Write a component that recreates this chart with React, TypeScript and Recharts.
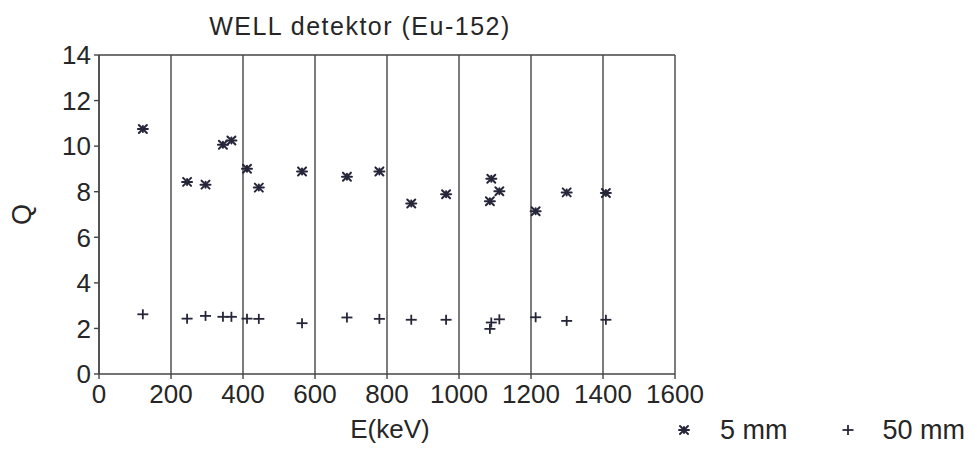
import React from 'react';
import { ScatterChart, Scatter, XAxis, YAxis, CartesianGrid, ReferenceLine, Label } from 'recharts';

// Eu-152 gamma lines (keV) and Q
const energies = [121.8, 244.7, 295.9, 344.3, 367.8, 411.1, 444.0, 564.0, 688.7, 778.9, 867.4, 964.1, 1085.8, 1089.7, 1112.1, 1212.9, 1299.1, 1408.0];
const q5mm = [10.75, 8.43, 8.31, 10.06, 10.25, 9.01, 8.18, 8.89, 8.66, 8.89, 7.48, 7.89, 7.58, 8.57, 8.02, 7.14, 7.97, 7.94];
const q50mm = [2.62, 2.43, 2.55, 2.51, 2.51, 2.43, 2.42, 2.23, 2.48, 2.42, 2.38, 2.38, 1.98, 2.26, 2.40, 2.49, 2.33, 2.38];

const xTicks = [0, 200, 400, 600, 800, 1000, 1200, 1400, 1600];
const yTicks = [0, 2, 4, 6, 8, 10, 12, 14];

const seriesNames = ['5 mm', '50 mm'];

const data5 = energies.map((e, i) => ({ e, q: q5mm[i] }));
const data50 = energies.map((e, i) => ({ e, q: q50mm[i] }));

const INK = '#26263a';
const AXIS = '#444';
const TEXT = '#262626';
const FONT = '"Liberation Sans", Arial, sans-serif';

const Asterisk = (props: any) => {
  const { cx, cy } = props;
  if (cx == null || cy == null) return null;
  return (
    <g stroke={INK} strokeWidth={2} strokeLinecap="round">
      <line x1={cx - 5} y1={cy} x2={cx + 5} y2={cy} />
      <line x1={cx - 4} y1={cy - 4} x2={cx + 4} y2={cy + 4} />
      <line x1={cx - 4} y1={cy + 4} x2={cx + 4} y2={cy - 4} />
      <line x1={cx} y1={cy - 3} x2={cx} y2={cy + 3} />
    </g>
  );
};

const Plus = (props: any) => {
  const { cx, cy } = props;
  if (cx == null || cy == null) return null;
  return (
    <g stroke={INK} strokeWidth={1.8}>
      <line x1={cx - 5.5} y1={cy} x2={cx + 5.5} y2={cy} />
      <line x1={cx} y1={cy - 5} x2={cx} y2={cy + 5} />
    </g>
  );
};

const tickStyle = { fill: TEXT, fontSize: 26, fontFamily: FONT };

const App = () => {
  return (
    <div style={{ position: 'absolute', left: 0, top: 0, width: 977, height: 450, background: '#fff', fontFamily: FONT }}>
      <ScatterChart width={977} height={450} margin={{ top: 55, right: 302, bottom: 0, left: 0 }}>
        <CartesianGrid vertical horizontal={false} stroke={AXIS} strokeWidth={1.4} />
        <ReferenceLine y={14} stroke={AXIS} strokeWidth={1.4} />
        <XAxis
          type="number"
          dataKey="e"
          domain={[0, 1600]}
          ticks={xTicks}
          interval={0}
          height={76}
          stroke={AXIS}
          strokeWidth={1.4}
          tickSize={5}
          tickMargin={6}
          tick={tickStyle}
        >
          <Label
            content={({ viewBox }: any) => (
              <text x={viewBox.x + viewBox.width / 2 + 3} y={438} textAnchor="middle" fill={TEXT} fontSize={26} fontFamily={FONT}>
                E(keV)
              </text>
            )}
          />
        </XAxis>
        <YAxis
          type="number"
          dataKey="q"
          domain={[0, 14]}
          ticks={yTicks}
          interval={0}
          width={99}
          stroke={AXIS}
          strokeWidth={1.4}
          tickSize={5}
          tickMargin={3}
          tick={tickStyle}
        >
          <Label
            content={({ viewBox }: any) => {
              const y = viewBox.y + viewBox.height / 2;
              return (
                <text x={22} y={y} transform={`rotate(-90 22 ${y})`} textAnchor="middle" dominantBaseline="central" fill={TEXT} fontSize={27} fontFamily={FONT}>
                  Q
                </text>
              );
            }}
          />
        </YAxis>
        <Scatter name={seriesNames[0]} data={data5} shape={Asterisk} isAnimationActive={false} />
        <Scatter name={seriesNames[1]} data={data50} shape={Plus} isAnimationActive={false} />
      </ScatterChart>

      {/* title */}
      <div style={{ position: 'absolute', left: 160, width: 400, top: 11, textAlign: 'center', fontSize: 25, letterSpacing: 1.5, color: TEXT, lineHeight: '30px' }}>
        WELL detektor (Eu-152)
      </div>

      {/* legend */}
      <div style={{ position: 'absolute', left: 676, top: 414, height: 32, display: 'flex', alignItems: 'center', fontSize: 27, lineHeight: '32px', color: TEXT, whiteSpace: 'nowrap' }}>
        <svg width={16} height={16} style={{ marginRight: 28 }}>
          <Asterisk cx={8} cy={8} />
        </svg>
        <span style={{ marginRight: 52 }}>{seriesNames[0]}</span>
        <svg width={16} height={16} style={{ marginRight: 27 }}>
          <Plus cx={8} cy={8} />
        </svg>
        <span>{seriesNames[1]}</span>
      </div>
    </div>
  );
};

export default App;
